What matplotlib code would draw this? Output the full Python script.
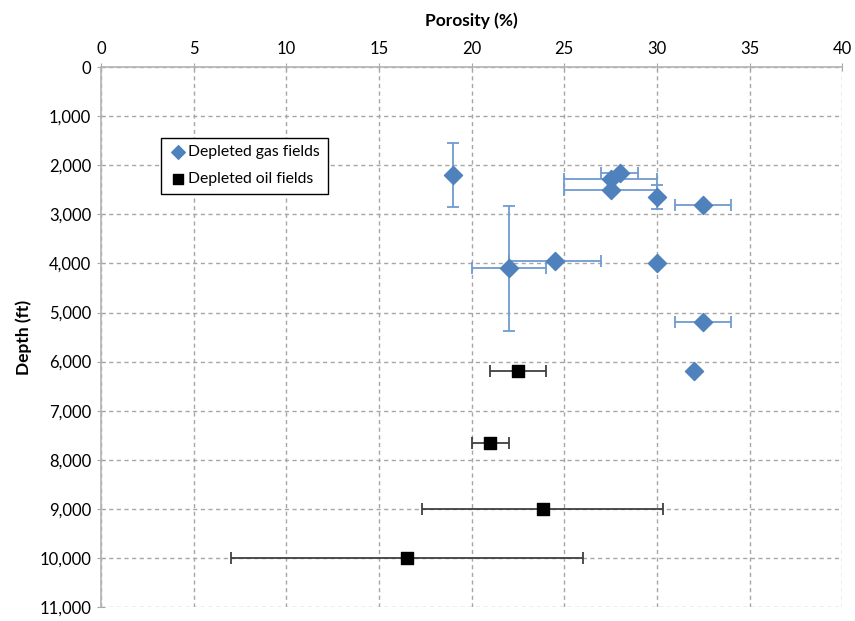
import matplotlib.pyplot as plt
from matplotlib.ticker import FuncFormatter

plt.rcParams['font.family'] = ['Lato', 'DejaVu Sans']

# depleted gas fields: porosity (%), depth (ft), error bars
gas_porosity = [19, 28, 27.5, 27.5, 30, 32.5, 24.5, 22, 30, 32.5, 32]
gas_depth = [2200, 2150, 2280, 2500, 2650, 2800, 3950, 4100, 4000, 5200, 6200]
gas_xerr = [0, 1, 2.5, 2.5, 0, 1.5, 2.5, 2, 0, 1.5, 0]
gas_yerr = [650, 0, 0, 0, 250, 0, 0, 1275, 0, 0, 0]

# depleted oil fields
oil_porosity = [22.5, 21, 23.85, 16.5]
oil_depth = [6200, 7650, 9000, 10000]
oil_xerr = [1.5, 1, 6.5, 9.5]

fig = plt.figure(figsize=(8.55, 6.21), dpi=100)
ax = fig.add_axes([0.118, 0.0225, 0.867, 0.8695])

ax.errorbar(gas_porosity, gas_depth, xerr=gas_xerr, yerr=gas_yerr, fmt='none',
            ecolor='#6f9bd1', elinewidth=1.3, capsize=4, capthick=1.3, zorder=3)
ax.errorbar(oil_porosity, oil_depth, xerr=oil_xerr, fmt='none',
            ecolor='#404040', elinewidth=1.3, capsize=4, capthick=1.3, zorder=3)
ax.scatter(gas_porosity, gas_depth, marker='D', s=85, color='#4f81bd',
           edgecolors='#4f81bd', label='Depleted gas fields', zorder=4)
ax.scatter(oil_porosity, oil_depth, marker='s', s=75, color='black',
           label='Depleted oil fields', zorder=4)

ax.set_xlim(0, 40)
ax.set_ylim(11000, 0)
ax.set_xticks(range(0, 41, 5))
ax.set_yticks(range(0, 11001, 1000))
ax.yaxis.set_major_formatter(FuncFormatter(lambda v, p: f'{int(v):,}'))
ax.xaxis.tick_top()
ax.xaxis.set_label_position('top')
ax.tick_params(axis='both', labelsize=12, direction='inout', length=6,
               color='#a6a6a6', pad=4)
ax.set_xlabel('Porosity (%)', fontsize=12.5, fontweight='bold', labelpad=11)
ax.set_ylabel('Depth (ft)', fontsize=12.5, fontweight='bold', labelpad=5)

ax.grid(True, linestyle=(0, (3, 2.5)), color='#a6a6a6', linewidth=1)
for side in ['right', 'bottom']:
    ax.spines[side].set_visible(False)
for side in ['left', 'top']:
    ax.spines[side].set_color('#b3b3b3')
    ax.spines[side].set_linewidth(1.2)

leg = ax.legend(loc='upper left', bbox_to_anchor=(0.071, 0.884), fontsize=11.3,
                fancybox=False, edgecolor='black', framealpha=1,
                handletextpad=0.1, handlelength=1.1, borderpad=0.5,
                labelspacing=0.8, markerscale=0.75)
leg.get_frame().set_linewidth(1)

fig.savefig('out.png', dpi=100)
